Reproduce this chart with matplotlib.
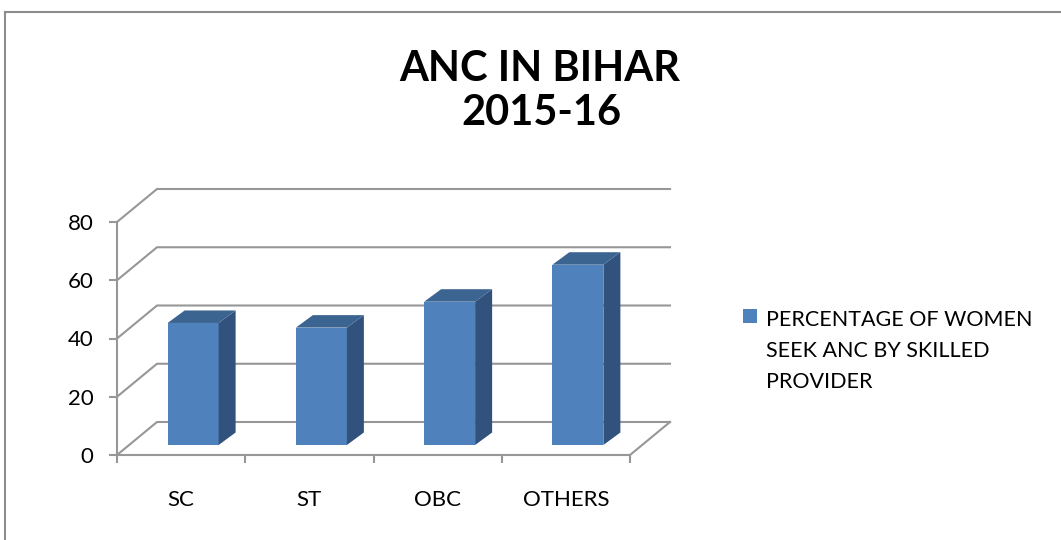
import numpy as np
import matplotlib
matplotlib.use('Agg')
import matplotlib.pyplot as plt
from matplotlib.patches import Polygon, Rectangle
from matplotlib.lines import Line2D

# ---------------- data ----------------
categories = ['SC', 'ST', 'OBC', 'OTHERS']
values = [41.9, 40.3, 49.2, 61.9]
series_name = 'PERCENTAGE OF WOMEN\nSEEK ANC BY SKILLED\nPROVIDER'
y_ticks = [0, 20, 40, 60, 80]
title_lines = ['ANC IN BIHAR', '2015-16']

# ---------------- style ----------------
W, H = 1061, 540
FONT = ['Lato', 'DejaVu Sans']
GRID = '#979797'
FRONT = '#4F81BD'
TOP = '#3B6491'
SIDE = '#30527D'

fig = plt.figure(figsize=(W / 100, H / 100), dpi=100)
fig.patch.set_facecolor('white')

# axes: front plane of the 3D box
ax_l, ax_r, ax_b, ax_t = 117, 630, 455, 222
ax = fig.add_axes([ax_l / W, (H - ax_b) / H, (ax_r - ax_l) / W, (ax_b - ax_t) / H])
n = len(categories)
ymax = y_ticks[-1]
ax.set_xlim(-0.5, n - 0.5)
ax.set_ylim(0, ymax)
ax.patch.set_visible(False)

px_x = (ax_r - ax_l) / n          # pixels per category unit
px_y = (ax_b - ax_t) / ymax       # pixels per value unit
DX, DY = 40 / px_x, 33 / px_y     # depth of the floor / walls
FX, FY = 12 / px_x, 10 / px_y     # front-face offset of bars
BX, BY = 17 / px_x, 12.5 / px_y   # bar depth
BW = 51 / px_x                    # bar width

for s in ['top', 'right']:
    ax.spines[s].set_visible(False)
for s in ['left', 'bottom']:
    ax.spines[s].set_color(GRID)
    ax.spines[s].set_linewidth(1.5)
    ax.spines[s].set_zorder(1)

# walls & gridlines
x0, x1 = -0.5, n - 0.5
for v in y_ticks:
    ax.add_line(Line2D([x0, x0 + DX, x1 + DX], [v, v + DY, v + DY],
                       color=GRID, lw=1.5, clip_on=False, zorder=1))
ax.add_line(Line2D([x1, x1 + DX], [0, DY], color=GRID, lw=1.5,
                   clip_on=False, zorder=1))

# bars
xs = np.arange(n) + FX
bars = ax.bar(xs, values, width=BW, bottom=FY, color=FRONT, zorder=3,
              clip_on=False, edgecolor='none')
for b, v in zip(bars, values):
    l = b.get_x()
    r = l + b.get_width()
    bot = b.get_y()
    top = bot + v
    ax.add_patch(Polygon([(r, bot), (r + BX, bot + BY), (r + BX, top + BY), (r, top)],
                         closed=True, facecolor=SIDE, edgecolor='none', zorder=3,
                         clip_on=False))
    ax.add_patch(Polygon([(l, top), (l + BX, top + BY), (r + BX, top + BY), (r, top)],
                         closed=True, facecolor=TOP, edgecolor='none', zorder=3,
                         clip_on=False))

# ticks
ax.set_yticks(y_ticks)
ax.set_yticklabels([str(t) for t in y_ticks], fontsize=16, family=FONT)
ax.tick_params(axis='y', direction='out', length=6, width=1.5, color=GRID, pad=11)
ax.set_xticks(np.arange(n + 1) - 0.5)
ax.set_xticklabels([''] * (n + 1))
ax.tick_params(axis='x', which='major', direction='out', length=6, width=1.5, color=GRID)
ax.set_xticks(np.arange(n), minor=True)
ax.set_xticklabels(categories, minor=True, fontsize=16, family=FONT)
ax.tick_params(axis='x', which='minor', length=0, pad=25)

# title
fig.text(540 / W, 1 - 69 / H, title_lines[0], ha='center', va='center',
         fontsize=30, fontweight='bold', family=FONT)
fig.text(541 / W, 1 - 113 / H, title_lines[1], ha='center', va='center',
         fontsize=30, fontweight='bold', family=FONT)

# legend
fig.patches.append(Rectangle((743 / W, 1 - 323 / H), 14 / W, 14 / H,
                             transform=fig.transFigure, facecolor=FRONT,
                             edgecolor='none'))
fig.text(766 / W, 1 - 310 / H, series_name, ha='left', va='top',
         fontsize=15.5, family=FONT, linespacing=1.68)

# outer frame
fig.add_artist(Line2D([5 / W, 1], [1 - 11.5 / H, 1 - 11.5 / H],
                      transform=fig.transFigure, color='#8C8C8C', lw=1.5))
fig.add_artist(Line2D([5 / W, 5 / W], [0, 1 - 11.5 / H],
                      transform=fig.transFigure, color='#8C8C8C', lw=1.5))

fig.savefig('out.png', dpi=100)
